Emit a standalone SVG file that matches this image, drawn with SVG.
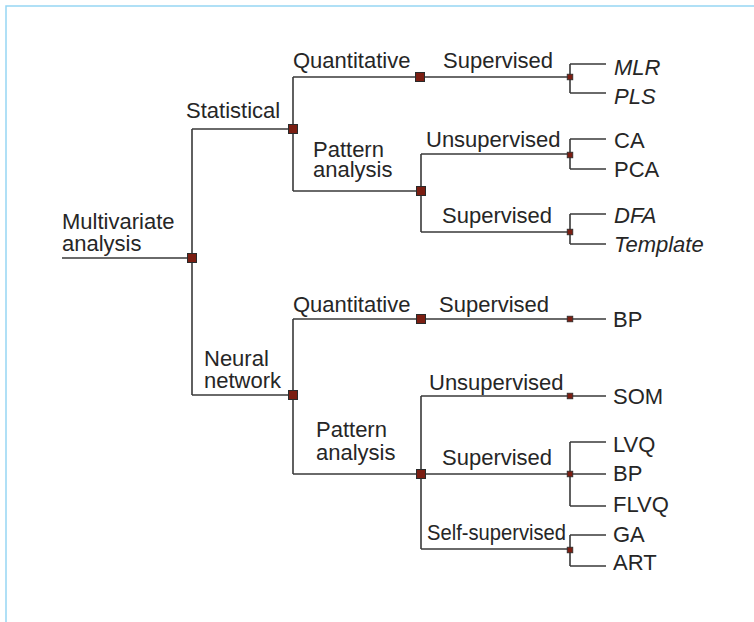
<svg xmlns="http://www.w3.org/2000/svg" width="754" height="622" viewBox="0 0 754 622">
  <style>
    text { font-family: "Liberation Sans", Arial, sans-serif; font-size: 22px; fill: #262626; }
    .it { font-style: italic; }
    .wire { fill: none; stroke: #3a3a3a; stroke-width: 1.6; }
    .hub { fill: #7b1e12; stroke: #2a2a2a; stroke-width: 1; }
    .tip { fill: #7b1e12; stroke: #2a2a2a; stroke-width: 0.8; }
  </style>
  <defs>
    <rect id="bigHub" class="hub" x="-4.5" y="-4.5" width="9" height="9"/>
    <rect id="smallHub" class="tip" x="-2.8" y="-2.8" width="5.6" height="5.6"/>
  </defs>

  <!-- page frame -->
  <rect x="6" y="6" width="770" height="640" fill="#ffffff" stroke="#97d6f3" stroke-width="1.5"/>

  <!-- connectors -->
  <g id="connectors" class="wire">
    <path d="M62,258 H192 M192,129 V395 M192,129 H293 M192,395 H293"/>
    <!-- statistical branch -->
    <path d="M293,77 V191 M293,77 H570 M293,191 H421"/>
    <path d="M421,154 V232 M421,154 H570 M421,232 H570"/>
    <path d="M570,64 V93 M570,64 H606 M570,93 H606"/>
    <path d="M570,139 V169 M570,139 H606 M570,169 H606"/>
    <path d="M570,214 V244 M570,214 H606 M570,244 H606"/>
    <!-- neural network branch -->
    <path d="M293,319 V474 M293,319 H606 M293,474 H421"/>
    <path d="M421,396 V549 M421,396 H606 M421,474 H606 M421,549 H570"/>
    <path d="M570,442 V506 M570,442 H606 M570,506 H606"/>
    <path d="M570,535 V566 M570,535 H606 M570,566 H606"/>
  </g>

  <g id="root">
    <text x="62" y="229">Multivariate<tspan x="62" dy="22">analysis</tspan></text>
    <use href="#bigHub" x="192" y="258"/>
  </g>

  <g id="statistical">
    <text x="186" y="118">Statistical</text>
    <use href="#bigHub" x="293" y="129"/>
  </g>
  <g id="stat-quantitative">
    <text x="293" y="68">Quantitative</text>
    <use href="#bigHub" x="420" y="77"/>
  </g>
  <g id="stat-quant-supervised">
    <text x="443" y="68">Supervised</text>
    <use href="#smallHub" x="570" y="77"/>
  </g>
  <g id="mlr"><text class="it" x="614" y="75">MLR</text></g>
  <g id="pls"><text class="it" x="614" y="104">PLS</text></g>

  <g id="stat-pattern">
    <text x="313" y="157">Pattern<tspan x="313" dy="20">analysis</tspan></text>
    <use href="#bigHub" x="421" y="191"/>
  </g>
  <g id="stat-pattern-unsupervised">
    <text x="426" y="147">Unsupervised</text>
    <use href="#smallHub" x="570" y="155"/>
  </g>
  <g id="ca"><text x="614" y="148">CA</text></g>
  <g id="pca"><text x="614" y="177">PCA</text></g>
  <g id="stat-pattern-supervised">
    <text x="442" y="223">Supervised</text>
    <use href="#smallHub" x="570" y="232"/>
  </g>
  <g id="dfa"><text class="it" x="614" y="223">DFA</text></g>
  <g id="template"><text class="it" x="614" y="252">Template</text></g>

  <g id="neural">
    <text x="204" y="366">Neural<tspan x="204" dy="22">network</tspan></text>
    <use href="#bigHub" x="293" y="395"/>
  </g>
  <g id="nn-quantitative">
    <text x="293" y="312">Quantitative</text>
    <use href="#bigHub" x="421" y="319"/>
  </g>
  <g id="nn-quant-supervised">
    <text x="439" y="312">Supervised</text>
    <use href="#smallHub" x="570" y="319"/>
  </g>
  <g id="bp-quant"><text x="613" y="327">BP</text></g>

  <g id="nn-pattern">
    <text x="316" y="437">Pattern<tspan x="316" dy="23">analysis</tspan></text>
    <use href="#bigHub" x="421" y="474"/>
  </g>
  <g id="nn-pattern-unsupervised">
    <text x="429" y="390">Unsupervised</text>
    <use href="#smallHub" x="570" y="396"/>
  </g>
  <g id="som"><text x="613" y="404">SOM</text></g>
  <g id="nn-pattern-supervised">
    <text x="442" y="465">Supervised</text>
    <use href="#smallHub" x="570" y="474"/>
  </g>
  <g id="lvq"><text x="613" y="452">LVQ</text></g>
  <g id="bp-pattern"><text x="613" y="481">BP</text></g>
  <g id="flvq"><text x="613" y="512">FLVQ</text></g>
  <g id="nn-pattern-self">
    <text x="427" y="540" textLength="139" lengthAdjust="spacingAndGlyphs">Self-supervised</text>
    <use href="#smallHub" x="570" y="550"/>
  </g>
  <g id="ga"><text x="613" y="542">GA</text></g>
  <g id="art"><text x="613" y="570">ART</text></g>
</svg>
